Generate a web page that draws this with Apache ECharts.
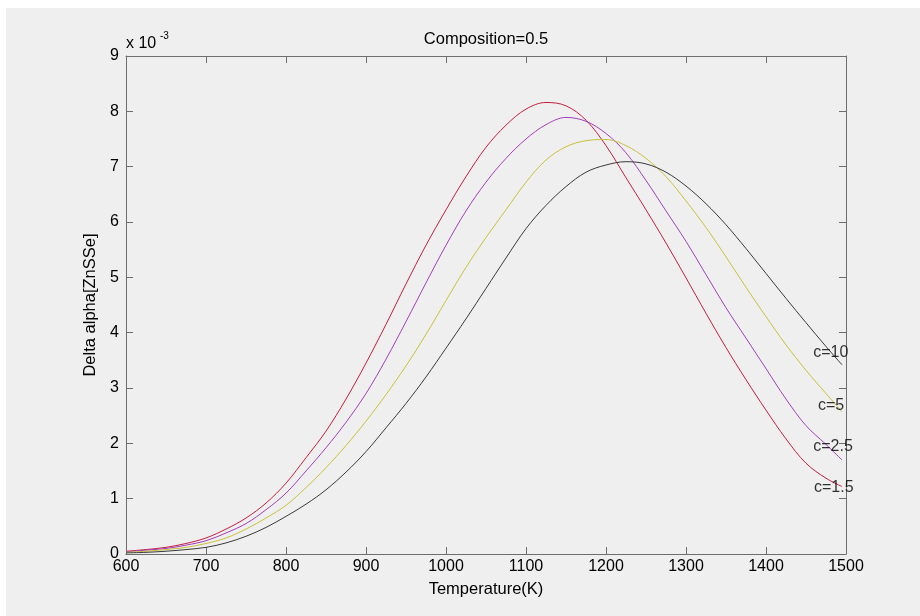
<!DOCTYPE html>
<html>
<head>
<meta charset="utf-8">
<script src="https://cdn.jsdelivr.net/npm/echarts@6/dist/echarts.min.js"></script>
<style>
html,body{margin:0;padding:0;background:#ffffff;width:920px;height:616px;overflow:hidden;}
#chart{position:absolute;left:6px;top:8px;width:914px;height:608px;background:#efefef;}
</style>
</head>
<body>
<div id="chart"></div>
<script>
// Temperature (K)
const temps = [600,625,650,675,700,725,750,775,800,825,850,875,900,925,950,975,1000,1025,1050,1075,1100,1125,1150,1175,1200,1225,1250,1275,1300,1325,1350,1375,1400,1425,1450,1475,1495];
// Delta alpha values (x 10^-3)
const c15 = [0.05,0.08,0.12,0.19,0.29,0.45,0.65,0.92,1.28,1.74,2.22,2.80,3.45,4.15,4.88,5.58,6.22,6.82,7.35,7.75,8.04,8.16,8.10,7.84,7.38,6.80,6.22,5.62,4.99,4.35,3.73,3.15,2.60,2.08,1.64,1.37,1.22];
const c25 = [0.04,0.07,0.10,0.16,0.24,0.38,0.55,0.80,1.10,1.50,1.92,2.38,2.90,3.52,4.20,4.90,5.58,6.20,6.72,7.15,7.50,7.76,7.89,7.82,7.60,7.25,6.75,6.20,5.65,5.05,4.45,3.90,3.35,2.80,2.32,1.98,1.70];
const c5  = [0.03,0.05,0.08,0.12,0.19,0.29,0.45,0.65,0.88,1.20,1.56,1.96,2.40,2.88,3.40,3.97,4.58,5.18,5.72,6.22,6.72,7.12,7.36,7.47,7.49,7.38,7.15,6.82,6.38,5.90,5.37,4.82,4.29,3.78,3.32,2.90,2.57];
const c10 = [0.02,0.03,0.05,0.08,0.12,0.20,0.32,0.48,0.68,0.90,1.16,1.48,1.85,2.28,2.72,3.20,3.72,4.25,4.80,5.35,5.88,6.30,6.64,6.90,7.03,7.09,7.05,6.90,6.65,6.33,5.95,5.52,5.07,4.62,4.18,3.75,3.42];
// curve labels
const labelTexts = ['c=10','c=5','c=2.5','c=1.5'];
const labelTemps = [1459,1465,1459,1460];
const labelVals  = [3.64,2.69,1.94,1.20];
const xTicks = {min:600,max:1500,interval:100};
const yTicks = {min:0,max:9,interval:1};

const seriesDefs = [
  {name:'c=1.5', data:c15, color:'#c41e3e'},
  {name:'c=2.5', data:c25, color:'#a43cbc'},
  {name:'c=5',   data:c5,  color:'#c8c03c'},
  {name:'c=10',  data:c10, color:'#3a3a3a'}
];

const axisColor = '#6e6e6e';
const font = 'Liberation Sans, Arial, Helvetica, sans-serif';

const chart = echarts.init(document.getElementById('chart'), null, {renderer:'canvas'});
const series = seriesDefs.map(s => ({
  type:'line', name:s.name, xAxisIndex:0, yAxisIndex:0,
  data: temps.map((t,i)=>[t,s.data[i]]),
  showSymbol:false, symbol:'none', smooth:0.35,
  lineStyle:{color:s.color,width:1}, silent:true, z:3
}));
series.push({
  type:'scatter', xAxisIndex:0, yAxisIndex:0, silent:true, symbolSize:0,
  data: labelTexts.map((t,i)=>({value:[labelTemps[i],labelVals[i]], name:t})),
  label:{show:true, position:'right', distance:0, formatter:p=>p.name, color:'#000', fontSize:16, fontFamily:font},
  z:5
});

const baseAxis = {
  axisLine:{show:true,onZero:false,lineStyle:{color:axisColor,width:1}},
  axisTick:{show:true,inside:true,length:7,lineStyle:{color:axisColor}},
  splitLine:{show:false}
};

chart.setOption({
  animation:false,
  backgroundColor:'#efefef',
  grid:{left:120,top:48,width:720,height:498,containLabel:false},
  xAxis:[
    Object.assign({type:'value',position:'bottom',min:xTicks.min,max:xTicks.max,interval:xTicks.interval,
      name:'Temperature(K)',nameLocation:'middle',nameGap:27,
      nameTextStyle:{color:'#000',fontSize:16.5,fontFamily:font},
      axisLabel:{color:'#000',fontSize:16,fontFamily:font,margin:5,formatter:v=>String(v)}}, baseAxis),
    Object.assign({type:'value',position:'top',min:xTicks.min,max:xTicks.max,interval:xTicks.interval,
      axisLabel:{show:false}}, baseAxis)
  ],
  yAxis:[
    Object.assign({type:'value',position:'left',min:yTicks.min,max:yTicks.max,interval:yTicks.interval,
      name:'Delta alpha[ZnSSe]',nameLocation:'middle',nameGap:22,
      nameTextStyle:{color:'#000',fontSize:16.5,fontFamily:font},
      axisLabel:{color:'#000',fontSize:16,fontFamily:font,margin:7,formatter:v=>String(v)}}, baseAxis),
    Object.assign({type:'value',position:'right',min:yTicks.min,max:yTicks.max,interval:yTicks.interval,
      axisLabel:{show:false}}, baseAxis)
  ],
  graphic:[
    {type:'text',x:480,y:31,style:{text:'Composition=0.5',fill:'#000',font:'16.5px '+font,textAlign:'center',textVerticalAlign:'middle'}},
    {type:'text',x:120,y:36,style:{text:'x 10',fill:'#000',font:'16px '+font,textAlign:'left',textVerticalAlign:'middle'}},
    {type:'text',x:154,y:28,style:{text:'-3',fill:'#000',font:'10px '+font,textAlign:'left',textVerticalAlign:'middle'}}
  ],
  series:series
});
</script>
</body>
</html>
